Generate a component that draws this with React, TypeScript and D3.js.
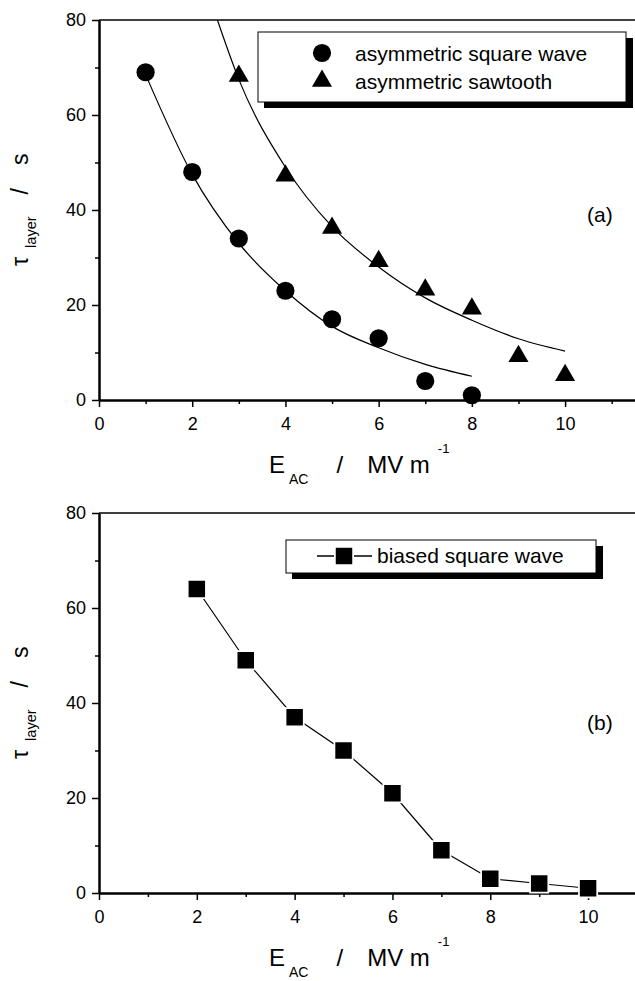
import React, { useEffect, useRef } from 'react';
import * as d3 from 'd3';

const FONT = '"Liberation Sans", Arial, Helvetica, sans-serif';

// panel (a) measured points
const squareWaveE = [1, 2, 3, 4, 5, 6, 7, 8];
const squareWaveTau = [69, 48, 34, 23, 17, 13, 4, 1];
const sawtoothE = [3, 4, 5, 6, 7, 8, 9, 10];
const sawtoothTau = [68, 47, 36, 29, 23, 19, 9, 5];
// fitted decay curves
const squareFitE = [1, 2, 3, 4, 5, 6, 7, 8];
const squareFitTau = [68.5, 47.5, 33, 23, 15.5, 11, 7.5, 5];
const sawFitE = [2.54, 3, 4, 5, 6, 7, 8, 9, 10];
const sawFitTau = [80, 67.5, 49, 36.5, 28, 21.5, 16.8, 12.9, 10.3];

// panel (b)
const biasedE = [2, 3, 4, 5, 6, 7, 8, 9, 10];
const biasedTau = [64, 49, 37, 30, 21, 9, 3, 2, 1];

const xMajor = [0, 2, 4, 6, 8, 10];
const xMinor = [1, 3, 5, 7, 9, 11];
const yMajor = [0, 20, 40, 60, 80];
const yMinor = [10, 30, 50, 70];

const zip = (xs, ys) => xs.map((x, i) => [x, ys[i]]);

const drawPanel = (svg, cfg) => {
	const x = d3.scaleLinear().domain([0, cfg.xMax]).range([99, cfg.right]);
	const y = d3.scaleLinear().domain([0, 80]).range([cfg.bottom, cfg.top]);
	const g = svg.append('g');

	// top frame line
	g.append('line').attr('x1', x(0)).attr('x2', cfg.right)
		.attr('y1', cfg.top).attr('y2', cfg.top)
		.attr('stroke', '#000').attr('stroke-width', 1.5);

	const style = (sel, labels) => {
		sel.select('.domain').attr('stroke-width', 2);
		sel.selectAll('.tick line').attr('stroke-width', 1.5);
		sel.selectAll('.tick text').attr('font-size', 18).attr('font-family', FONT)
			.attr('fill', '#000');
		if (!labels) sel.selectAll('.tick text').remove();
	};

	g.append('g').attr('transform', `translate(0,${ cfg.bottom })`)
		.call(d3.axisBottom(x).tickValues(xMinor).tickSize(4).tickSizeOuter(0))
		.call((s) => style(s, false));
	g.append('g').attr('transform', `translate(0,${ cfg.bottom })`)
		.call(d3.axisBottom(x).tickValues(xMajor).tickSize(7).tickSizeOuter(0).tickPadding(10))
		.call((s) => style(s, true));
	g.append('g').attr('transform', `translate(${ x(0) },0)`)
		.call(d3.axisLeft(y).tickValues(yMinor).tickSize(4).tickSizeOuter(0))
		.call((s) => style(s, false));
	g.append('g').attr('transform', `translate(${ x(0) },0)`)
		.call(d3.axisLeft(y).tickValues(yMajor).tickSize(7).tickSizeOuter(0).tickPadding(6))
		.call((s) => style(s, true));

	// y title
	const mid = (cfg.top + cfg.bottom) / 2;
	const yt = g.append('text').attr('font-family', FONT).attr('fill', '#000')
		.attr('transform', `translate(28,${ mid + 56 }) rotate(-90)`);
	yt.append('tspan').attr('font-size', 23).text('τ');
	yt.append('tspan').attr('font-size', 14.5).attr('dx', 9).attr('dy', 8).text('layer');
	yt.append('tspan').attr('font-size', 23).attr('dx', 22).attr('dy', -8).text('/');
	yt.append('tspan').attr('font-size', 23).attr('dx', 23).text('s');

	// x title
	const xt = g.append('text').attr('font-family', FONT).attr('fill', '#000')
		.attr('x', 269).attr('y', cfg.bottom + 73);
	xt.append('tspan').attr('font-size', 24).text('E');
	xt.append('tspan').attr('font-size', 14).attr('dx', 4).attr('dy', 11).text('AC');
	xt.append('tspan').attr('font-size', 24).attr('dx', 28).attr('dy', -11).text('/');
	xt.append('tspan').attr('font-size', 24).attr('dx', 24).text('MV m');
	xt.append('tspan').attr('font-size', 13).attr('dx', 8).attr('dy', -20).text('-1');

	g.append('text').attr('font-family', FONT).attr('font-size', 21)
		.attr('x', 587).attr('y', cfg.panelLabelY).text(cfg.panelLabel);

	return { g, x, y };
};

const drawChart = (ref) => {
	const svg = d3.select(ref.current);
	svg.selectAll('*').remove();

	// ---- panel (a)
	const a = drawPanel(svg, { top: 20, bottom: 400, right: 635, xMax: 11.5,
		panelLabel: '(a)', panelLabelY: 222 });
	const lineA = d3.line().x((d) => a.x(d[0])).y((d) => a.y(d[1]))
		.curve(d3.curveMonotoneX);
	a.g.append('path').attr('d', lineA(zip(squareFitE, squareFitTau)))
		.attr('fill', 'none').attr('stroke', '#000').attr('stroke-width', 1.2);
	a.g.append('path').attr('d', lineA(zip(sawFitE, sawFitTau)))
		.attr('fill', 'none').attr('stroke', '#000').attr('stroke-width', 1.2);

	const circle = d3.symbol(d3.symbolCircle, 260);
	const tri = d3.symbol(d3.symbolTriangle, 175);
	a.g.selectAll('path.circ').data(zip(squareWaveE, squareWaveTau)).enter()
		.append('path').attr('class', 'circ').attr('d', circle)
		.attr('transform', (d) => `translate(${ a.x(d[0]) },${ a.y(d[1]) })`);
	a.g.selectAll('path.tri').data(zip(sawtoothE, sawtoothTau)).enter()
		.append('path').attr('class', 'tri').attr('d', tri)
		.attr('transform', (d) => `translate(${ a.x(d[0]) },${ a.y(d[1]) - 1 })`);

	// legend (a)
	const la = a.g.append('g');
	la.append('rect').attr('x', 264).attr('y', 38).attr('width', 369).attr('height', 70);
	la.append('rect').attr('x', 258).attr('y', 32).attr('width', 368).attr('height', 70)
		.attr('fill', '#fff').attr('stroke', '#000').attr('stroke-width', 1);
	la.append('path').attr('d', circle).attr('transform', 'translate(322,53)');
	la.append('path').attr('d', tri).attr('transform', 'translate(322,81)');
	la.append('text').attr('x', 355).attr('y', 61).attr('font-family', FONT)
		.attr('font-size', 21).text('asymmetric square wave');
	la.append('text').attr('x', 355).attr('y', 89).attr('font-family', FONT)
		.attr('font-size', 21).text('asymmetric sawtooth');

	// ---- panel (b)
	const b = drawPanel(svg, { top: 513, bottom: 893, right: 637, xMax: 11,
		panelLabel: '(b)', panelLabelY: 730 });
	const lineB = d3.line().x((d) => b.x(d[0])).y((d) => b.y(d[1]));
	const pts = zip(biasedE, biasedTau);
	b.g.append('path').attr('d', lineB(pts))
		.attr('fill', 'none').attr('stroke', '#000').attr('stroke-width', 1.2);
	const halo = d3.symbol(d3.symbolSquare, 400);
	const sq = d3.symbol(d3.symbolSquare, 272);
	b.g.selectAll('path.halo').data(pts).enter()
		.append('path').attr('class', 'halo').attr('d', halo).attr('fill', '#fff')
		.attr('transform', (d) => `translate(${ b.x(d[0]) },${ b.y(d[1]) })`);
	b.g.selectAll('path.sq').data(pts).enter()
		.append('path').attr('class', 'sq').attr('d', sq)
		.attr('transform', (d) => `translate(${ b.x(d[0]) },${ b.y(d[1]) })`);

	// legend (b)
	const lb = b.g.append('g');
	lb.append('rect').attr('x', 292).attr('y', 546).attr('width', 311).attr('height', 33);
	lb.append('rect').attr('x', 286).attr('y', 540).attr('width', 310).attr('height', 33)
		.attr('fill', '#fff').attr('stroke', '#000').attr('stroke-width', 1);
	lb.append('line').attr('x1', 317).attr('x2', 372).attr('y1', 556).attr('y2', 556)
		.attr('stroke', '#000').attr('stroke-width', 1.5);
	lb.append('path').attr('d', halo).attr('fill', '#fff').attr('transform', 'translate(344,556)');
	lb.append('path').attr('d', sq).attr('transform', 'translate(344,556)');
	lb.append('text').attr('x', 377).attr('y', 563).attr('font-family', FONT)
		.attr('font-size', 21).text('biased square wave');
};

const App = () => {
	const ref = useRef();

	useEffect(() => drawChart(ref), []);

	return (
		<svg ref={ ref } width={ 635 } height={ 981 }
			style={ { position: 'absolute', left: 0, top: 0, background: '#fff' } }/>
	);
};

export default App;
